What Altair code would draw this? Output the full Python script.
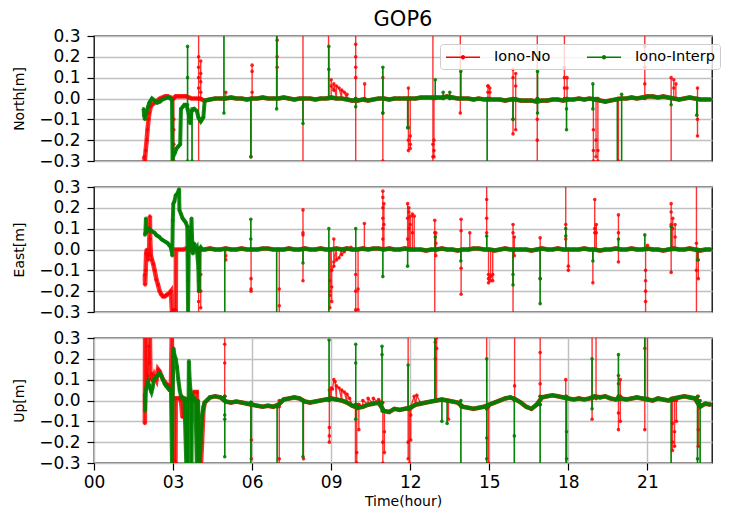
import altair as alt
import pandas as pd

RED = "#ff0000"
GREEN = "#008000"
SERIES = ["Iono-No", "Iono-Interp"]
X_TICKS = [0, 3, 6, 9, 12, 15, 18, 21]
Y_TICKS = [-0.3, -0.2, -0.1, 0.0, 0.1, 0.2, 0.3]
X_MAX = 23.45
BASE_T0 = 4.2
BASE_DT = 0.2

N_BASE = [-0.01, -0.005, 0.0, 0.0, 0.0, 0.005, 0.0, 0.0, -0.005, 0.0,
          0.0, 0.005, 0.0, 0.0, 0.0, 0.005, 0.0, -0.005, 0.0, 0.0,
          0.0, -0.005, 0.0, 0.0, 0.005, 0.0, 0.0, -0.005, -0.01, -0.01,
          -0.005, -0.01, -0.005, 0.0, 0.0, -0.005, 0.0, 0.0, 0.0, 0.0,
          0.0, 0.005, 0.005, 0.005, 0.005, 0.005, 0.01, 0.005, 0.0, 0.0,
          0.0, -0.005, 0.0, -0.005, -0.005, -0.005, -0.005, -0.01, -0.005, -0.005,
          -0.01, -0.01, -0.01, -0.015, -0.01, -0.01, -0.005, -0.005, -0.01, -0.005,
          -0.005, 0.0, -0.005, 0.0, -0.005, -0.01, -0.015, -0.01, -0.005, 0.0,
          0.0, 0.005, 0.0, 0.005, 0.01, 0.01, 0.005, 0.01, 0.005, 0.0,
          -0.005, 0.0, 0.005, 0.0, -0.005, -0.005, -0.005]
N_NO_EARLY = [(1.9, -0.28), (1.93, -0.3), (1.96, -0.25), (2.0, -0.2), (2.03, -0.15),
              (2.07, -0.1), (2.1, -0.07), (2.15, -0.04), (2.2, -0.03), (2.3, -0.02),
              (2.4, -0.01), (2.5, 0.0), (2.6, 0.005), (2.7, 0.01), (2.8, 0.01),
              (2.9, 0.005), (3.0, 0.0), (3.1, 0.01), (3.2, 0.01), (3.3, 0.01),
              (3.4, 0.01), (3.5, 0.01), (3.6, 0.005), (3.7, 0.0), (3.8, 0.0),
              (3.9, 0.0), (4.0, 0.0), (4.1, -0.005)]
N_INT_EARLY = [(1.88, -0.05), (1.9, -0.08), (1.93, -0.1), (1.96, -0.08), (2.0, -0.06),
               (2.05, -0.04), (2.1, -0.02), (2.15, -0.01), (2.2, 0.0), (2.3, -0.01),
               (2.4, -0.02), (2.5, -0.015), (2.6, -0.005), (2.7, 0.0), (2.8, 0.005),
               (2.9, 0.0), (2.96, -0.01), (2.98, -0.3), (3.0, -0.28), (3.07, -0.26),
               (3.13, -0.24), (3.2, -0.23), (3.27, -0.22), (3.3, -0.05), (3.37, -0.04),
               (3.43, -0.03), (3.5, -0.03), (3.55, -0.05), (3.6, -0.08), (3.65, -0.12),
               (3.7, -0.06), (3.8, -0.05), (3.9, -0.06), (3.96, -0.09), (4.0, -0.1),
               (4.05, -0.11), (4.1, -0.1), (4.15, -0.09)]
N_NO_SPIKES = [(3.03, [0.0, -0.15, -0.22, -0.3, -0.1, 0.0]),
               (3.97, [0.0, 0.35, 0.2, 0.15, 0.1, 0.05, -0.35, 0.0]),
               (4.05, [0.0, 0.18, 0.12, 0.08, 0.03, 0.0]),
               (5.0, [0.0, 0.03, 0.0]),
               (5.96, [0.0, -0.28, 0.0]),
               (6.0, [0.0, 0.16, 0.13, 0.03, 0.0]),
               (6.95, [0.0, 0.35, 0.28, 0.2, 0.15, 0.0]),
               (7.93, [0.0, 0.35, -0.35, 0.0]),
               (8.9, [0.0, 0.35, 0.0]),
               (9.0, [0.0, 0.09, 0.06]), (9.1, [0.04, 0.07]), (9.2, [0.06]),
               (9.3, [0.05]), (9.4, [0.04]), (9.5, [0.03]), (9.6, [0.02, 0.0]),
               (9.93, [0.0, 0.35, 0.26, 0.2, 0.15, 0.1, -0.35, 0.0]),
               (10.27, [0.0, 0.07, 0.0]),
               (10.96, [0.0, 0.1, -0.07, -0.3, 0.0]),
               (11.93, [0.0, 0.05, -0.14, -0.2, -0.25, 0.0]),
               (12.0, [0.0, -0.18, -0.22, -0.24, 0.0]),
               (12.86, [0.0, 0.35, -0.35, -0.28, -0.22, 0.0]),
               (12.9, [0.0, -0.2, -0.25, -0.28, 0.0]),
               (13.9, [0.0, 0.35, -0.07, 0.0]),
               (14.95, [0.0, 0.06, 0.03, 0.06, 0.0]),
               (15.02, [0.0, 0.05, 0.03, 0.0]),
               (15.9, [0.0, 0.14, 0.1, -0.1, -0.17, 0.0]),
               (16.0, [0.0, 0.12, 0.06, -0.15, 0.0]),
               (16.82, [0.0, 0.35, -0.35, -0.2, -0.1, 0.0]),
               (17.85, [0.0, 0.35, 0.15, 0.1, 0.05, 0.0]),
               (17.95, [0.0, 0.1, 0.05, 0.0]),
               (18.95, [0.0, -0.15, -0.25, -0.3, 0.0]),
               (19.05, [0.0, -0.2, -0.28, 0.0]),
               (19.12, [0.0, -0.25, -0.3, 0.0]),
               (19.9, [0.0, -0.3, 0.0]),
               (20.9, [0.0, 0.35, 0.25, 0.15, 0.07, 0.0]),
               (21.9, [0.0, 0.1, -0.35, 0.0]),
               (22.0, [0.0, 0.09, 0.05, 0.0]),
               (22.08, [0.0, 0.07, 0.0]),
               (22.9, [0.0, 0.05, -0.1, -0.18, 0.0])]
N_INT_SPIKES = [(3.55, [-0.03, 0.25, 0.1, -0.3, -0.05]),
                (3.72, [-0.05, -0.3, -0.06]),
                (4.93, [0.0, 0.35, -0.07, 0.0]),
                (5.95, [0.0, -0.28, 0.0]),
                (6.93, [0.0, 0.35, -0.05, 0.0]),
                (7.93, [0.0, -0.12, 0.0]),
                (8.91, [0.0, 0.25, 0.14, 0.0]),
                (9.93, [0.0, -0.04, 0.0]),
                (10.96, [0.0, 0.15, -0.07, 0.0]),
                (11.9, [0.0, -0.14, 0.0]),
                (12.95, [0.0, 0.09, 0.0]),
                (13.25, [0.0, 0.03, 0.0]),
                (13.5, [0.0, 0.03, 0.0]),
                (13.92, [0.0, 0.13, 0.0]),
                (14.92, [0.0, -0.35, 0.0]),
                (15.9, [0.0, -0.1, 0.0]),
                (16.83, [0.0, 0.13, -0.07, 0.0]),
                (17.93, [0.0, -0.15, -0.05, 0.0]),
                (18.93, [0.0, 0.07, -0.05, 0.0]),
                (19.86, [0.0, -0.35, 0.0]),
                (20.02, [0.0, -0.35, 0.02, 0.0]),
                (21.9, [0.0, -0.03, 0.0]),
                (22.87, [0.0, -0.08, 0.0])]

E_BASE = [0.0, 0.005, 0.0, 0.0, 0.005, 0.0, 0.0, 0.005, 0.0, 0.0,
          0.0, 0.005, 0.005, 0.0, 0.0, 0.0, 0.005, 0.0, 0.0, 0.005,
          0.0, 0.0, 0.005, 0.0, 0.0, 0.005, 0.0, 0.005, 0.0, 0.0,
          0.005, 0.0, 0.005, 0.005, 0.0, 0.005, 0.0, 0.0, 0.005, 0.0,
          0.0, 0.0, -0.005, 0.0, 0.0, 0.005, 0.0, 0.0, -0.005, 0.0,
          0.0, 0.005, 0.005, 0.0, 0.0, -0.005, 0.0, 0.005, 0.0, 0.0,
          0.0, 0.0, -0.005, 0.0, 0.005, 0.0, 0.0, 0.005, 0.0, 0.0,
          0.0, 0.0, 0.005, 0.0, 0.0, -0.005, 0.0, 0.0, 0.005, 0.0,
          0.0, 0.005, 0.0, 0.0, 0.005, 0.0, 0.0, -0.005, 0.0, 0.005,
          0.0, 0.0, 0.005, 0.0, -0.005, 0.0, 0.0]
E_NO_EARLY = [(1.93, -0.12), (1.94, -0.17), (1.96, -0.1), (1.98, -0.02), (2.0, 0.0),
              (2.03, -0.03), (2.06, -0.05), (2.09, -0.02), (2.12, 0.16), (2.13, 0.05),
              (2.16, -0.03), (2.2, -0.05), (2.25, -0.07), (2.3, -0.1), (2.37, -0.145),
              (2.43, -0.17), (2.49, -0.2), (2.55, -0.215), (2.62, -0.225), (2.68, -0.225),
              (2.74, -0.22), (2.8, -0.215), (2.86, -0.21), (2.92, -0.2), (2.96, -0.3),
              (3.0, -0.29), (3.05, -0.29), (3.1, -0.29), (3.11, 0.0), (3.2, 0.0),
              (3.3, 0.0), (3.4, 0.0), (3.5, 0.005), (3.6, 0.0), (3.7, 0.0),
              (3.8, 0.0), (3.9, 0.0), (4.0, 0.0), (4.1, 0.0)]
E_INT_EARLY = [(1.93, 0.07), (1.95, 0.08), (1.97, 0.15), (1.98, 0.08), (2.02, 0.09),
               (2.05, 0.1), (2.1, 0.1), (2.17, 0.09), (2.23, 0.085), (2.3, 0.08),
               (2.36, 0.07), (2.42, 0.065), (2.48, 0.06), (2.55, 0.05), (2.61, 0.045),
               (2.67, 0.04), (2.74, 0.035), (2.8, 0.03), (2.86, 0.02), (2.9, 0.015),
               (2.95, -0.01), (2.97, -0.03), (2.99, 0.14), (3.01, 0.22), (3.05, 0.23),
               (3.1, 0.26), (3.17, 0.27), (3.23, 0.29), (3.24, 0.19), (3.3, 0.17),
               (3.36, 0.15), (3.42, 0.14), (3.48, 0.13), (3.54, 0.11), (3.57, -0.35),
               (3.6, 0.05), (3.63, 0.09), (3.66, 0.02), (3.7, 0.15), (3.72, 0.06),
               (3.75, -0.02), (3.8, 0.03), (3.85, 0.0), (3.9, 0.01), (3.96, -0.09),
               (3.98, -0.2), (4.0, 0.0), (4.05, 0.01), (4.1, 0.0), (4.15, 0.0)]
E_NO_SPIKES = [(3.56, [0.0, -0.03, -0.15, 0.0]),
               (3.97, [0.0, -0.15, -0.2, -0.25, -0.35, 0.0]),
               (4.05, [0.0, -0.2, -0.28, -0.12, 0.0]),
               (5.0, [0.0, -0.03, -0.05, 0.0]),
               (5.96, [0.0, -0.14, -0.19, -0.2, 0.0]),
               (7.03, [0.0, -0.19, -0.27, -0.35, 0.0]),
               (7.93, [0.0, 0.19, 0.08, 0.07, -0.15, 0.0]),
               (8.95, [0.0, -0.15, -0.22, -0.28, -0.2]),
               (9.02, [-0.25, -0.18, -0.1]),
               (9.1, [-0.08, 0.05, -0.06]),
               (9.2, [-0.05]), (9.3, [-0.04]), (9.4, [-0.025]), (9.5, [-0.01]),
               (9.6, [0.005]), (9.75, [0.01, 0.0]),
               (9.93, [0.0, -0.12, -0.2, -0.29, -0.35, 0.0]),
               (10.02, [0.0, -0.19, -0.29, 0.0]),
               (10.26, [0.0, 0.125, 0.0]),
               (10.96, [0.0, 0.28, 0.25, 0.2, 0.15, 0.1, 0.05, 0.0]),
               (11.0, [0.0, 0.22, 0.12, 0.0]),
               (11.9, [0.0, 0.05, 0.15, 0.22, 0.0]),
               (11.95, [0.0, 0.2, 0.18, 0.1, 0.0]),
               (12.0, [0.0, 0.16, 0.12, 0.0]),
               (12.08, [0.0, 0.17, 0.08, 0.0]),
               (12.15, [0.0, 0.16, 0.0]),
               (12.93, [0.0, 0.14, 0.08, -0.35, 0.0]),
               (12.97, [0.0, 0.08, 0.03, -0.03, 0.0]),
               (13.93, [0.0, 0.145, 0.09, -0.215, -0.09, 0.0]),
               (14.26, [0.0, 0.08, 0.0]),
               (14.9, [0.0, 0.35, 0.24, 0.15, 0.08, 0.0]),
               (14.97, [0.0, -0.12, -0.16, -0.14, 0.0]),
               (15.05, [0.0, -0.13, -0.15, 0.0]),
               (15.13, [0.0, -0.15, -0.12, 0.0]),
               (15.9, [0.0, 0.12, 0.08, -0.35, 0.0]),
               (15.95, [0.0, 0.06, -0.03, 0.0]),
               (16.93, [0.0, 0.056, -0.14, 0.0]),
               (17.9, [0.0, 0.35, 0.12, 0.05, 0.0]),
               (18.0, [0.0, -0.1, -0.08, 0.0]),
               (18.93, [0.0, -0.16, 0.0]),
               (19.0, [0.0, 0.24, 0.1, 0.08, 0.0]),
               (19.06, [0.0, 0.12, 0.08, 0.0]),
               (19.9, [0.0, 0.166, 0.08, -0.06, 0.0]),
               (20.93, [0.0, -0.1, -0.15, -0.2, -0.25, -0.35, 0.0]),
               (21.0, [0.0, 0.02, 0.0]),
               (21.9, [0.0, 0.22, 0.18, 0.12, -0.11, 0.0]),
               (21.96, [0.0, 0.15, 0.1, 0.0]),
               (22.05, [0.0, 0.12, 0.06, 0.0]),
               (22.86, [0.0, 0.35, 0.03, -0.1, -0.35, 0.0]),
               (22.93, [0.0, -0.05, -0.14, 0.0])]
E_INT_SPIKES = [(4.96, [0.0, -0.35, 0.0]),
                (5.95, [0.0, 0.145, 0.05, 0.0]),
                (6.93, [0.0, -0.35, 0.0]),
                (7.93, [0.0, -0.065, 0.0]),
                (8.91, [0.0, 0.1, -0.35, 0.0]),
                (9.93, [0.0, 0.1, 0.0]),
                (10.96, [0.0, -0.13, 0.0]),
                (11.9, [0.0, -0.08, 0.0]),
                (12.95, [0.0, 0.06, 0.0]),
                (13.92, [0.0, -0.055, 0.0]),
                (14.9, [0.0, 0.065, 0.0]),
                (15.9, [0.0, -0.17, -0.12, 0.0]),
                (16.93, [0.0, -0.26, -0.14, 0.0]),
                (17.9, [0.0, 0.1, 0.065, 0.0]),
                (18.93, [0.0, -0.055, 0.0]),
                (19.9, [0.0, 0.05, 0.0]),
                (20.9, [0.0, 0.07, 0.0]),
                (21.9, [0.0, 0.11, 0.0]),
                (22.9, [0.0, -0.05, 0.0])]

U_BASE = [-0.01, 0.015, 0.02, 0.015, -0.005, -0.01, -0.005, -0.01, -0.015, -0.02,
          -0.025, -0.03, -0.025, -0.03, -0.02, 0.005, 0.01, 0.015, 0.01, -0.005,
          -0.01, -0.005, 0.0, 0.005, 0.01, 0.005, 0.0, -0.01, -0.025, -0.035,
          -0.03, -0.02, -0.015, -0.01, -0.05, -0.055, -0.04, -0.045, -0.04, -0.035,
          -0.02, -0.015, -0.01, -0.005, 0.0, 0.005, 0.0, -0.005, -0.01, -0.03,
          -0.035, -0.04, -0.035, -0.03, -0.02, -0.01, 0.0, 0.01, 0.015, 0.005,
          -0.01, -0.03, -0.04, -0.02, 0.015, 0.02, 0.025, 0.02, 0.015, 0.01,
          0.005, 0.01, 0.005, 0.01, 0.02, 0.015, 0.02, 0.01, 0.005, 0.01,
          0.005, 0.01, 0.015, 0.01, 0.005, 0.0, 0.01, 0.005, 0.0, 0.01,
          0.015, 0.02, 0.015, 0.01, -0.03, -0.015, -0.02]
U_NO_EARLY = [(1.93, -0.11), (1.94, 0.35), (1.96, 0.05), (1.98, 0.35), (2.0, 0.08),
              (2.04, 0.12), (2.08, 0.26), (2.1, 0.18), (2.12, 0.35), (2.14, 0.1),
              (2.2, 0.13), (2.25, 0.09), (2.3, 0.12), (2.37, 0.1), (2.43, 0.15),
              (2.49, 0.14), (2.55, 0.12), (2.62, 0.1), (2.68, 0.09), (2.74, 0.08),
              (2.8, 0.075), (2.86, 0.07), (2.92, 0.06), (2.95, 0.35), (2.97, 0.05),
              (3.03, -0.3), (3.06, -0.29), (3.09, -0.3), (3.1, 0.01), (3.2, 0.01),
              (3.3, 0.0), (3.36, -0.08), (3.4, 0.01), (3.5, 0.0), (3.6, 0.01),
              (3.7, 0.02), (3.8, 0.04), (3.9, 0.04), (3.96, -0.2), (3.98, -0.3),
              (4.02, -0.25), (4.06, -0.3), (4.1, -0.2), (4.15, -0.05)]
U_INT_EARLY = [(1.93, 0.03), (1.94, -0.05), (1.95, 0.0), (1.97, 0.05), (2.0, 0.07),
               (2.05, 0.09), (2.1, 0.07), (2.15, 0.05), (2.18, 0.04), (2.22, 0.06),
               (2.28, 0.1), (2.35, 0.11), (2.42, 0.12), (2.49, 0.13), (2.55, 0.12),
               (2.62, 0.1), (2.68, 0.08), (2.74, 0.07), (2.8, 0.06), (2.86, 0.05),
               (2.92, 0.05), (2.96, -0.35), (2.98, 0.0), (3.02, 0.25), (3.05, 0.22),
               (3.1, 0.2), (3.15, 0.16), (3.2, 0.1), (3.25, 0.05), (3.3, 0.02),
               (3.37, 0.01), (3.43, 0.01), (3.5, -0.35), (3.52, 0.0), (3.57, -0.35),
               (3.6, 0.19), (3.63, 0.1), (3.66, 0.05), (3.7, -0.35), (3.72, 0.03),
               (3.76, 0.0), (3.8, 0.01), (3.85, 0.0), (3.9, -0.35), (3.95, 0.0),
               (4.0, -0.35), (4.03, -0.25), (4.06, -0.15), (4.1, -0.08), (4.15, -0.03)]
U_NO_SPIKES = [(4.96, [0.02, 0.35, 0.27, 0.18, 0.02]),
               (5.97, [-0.01, -0.19, -0.28, -0.01]),
               (7.03, [-0.03, -0.35, -0.28, 0.0]),
               (7.95, [0.0, -0.28, 0.0]),
               (8.93, [0.0, -0.13, -0.2, -0.17, 0.05]),
               (9.0, [0.06]), (9.05, [0.055]), (9.1, [0.1]), (9.15, [0.09]),
               (9.2, [0.07]), (9.3, [0.06]), (9.4, [0.05]), (9.5, [0.04]),
               (9.6, [0.03]), (9.7, [0.01]),
               (9.92, [-0.02, -0.35, -0.02]),
               (9.97, [-0.02, -0.3, -0.25, -0.35, -0.02]),
               (10.05, [-0.02, -0.14, -0.02]),
               (10.2, [0.0]), (10.4, [0.01]), (10.6, [0.01]), (10.8, [0.005]),
               (10.96, [-0.01, -0.3, -0.2, -0.35, -0.05]),
               (11.02, [-0.05, -0.15, -0.25, -0.05]),
               (11.92, [-0.04, 0.35, -0.2, -0.28, -0.04]),
               (11.97, [-0.04, -0.3, -0.35, -0.04]),
               (12.02, [-0.04, -0.19, -0.07, -0.03]),
               (12.15, [0.02]), (12.25, [0.025]),
               (12.95, [0.0, 0.35, 0.28, 0.2, 0.0]),
               (13.0, [0.0, 0.3, 0.25, 0.0]),
               (13.45, [0.0, -0.09, 0.0]),
               (14.9, [-0.04, 0.35, -0.18, -0.28, -0.03]),
               (14.97, [-0.03, -0.3, -0.35, -0.03]),
               (15.96, [0.01, 0.35, 0.07, 0.01]),
               (16.93, [-0.02, 0.35, 0.23, 0.08, 0.02]),
               (17.9, [0.02, 0.1, -0.35, 0.01]),
               (18.9, [0.01, 0.35, -0.09, 0.01]),
               (19.05, [0.01, 0.35, 0.01]),
               (19.9, [0.02, 0.12, 0.08, -0.06, -0.14, 0.02]),
               (19.97, [0.02, 0.1, -0.1, 0.02]),
               (20.9, [0.01, 0.35, 0.25, -0.14, 0.01]),
               (21.0, [0.01, 0.35, 0.01]),
               (21.95, [0.0, -0.11, -0.2, -0.24, 0.01]),
               (22.03, [0.0, -0.15, -0.22, 0.01]),
               (22.1, [0.0, -0.1, 0.01]),
               (22.93, [0.02, -0.14, -0.22, 0.0])]
U_INT_SPIKES = [(4.96, [0.02, -0.07, -0.09, -0.27, 0.0]),
                (5.95, [-0.01, -0.35, -0.01]),
                (6.95, [-0.03, -0.35, -0.03]),
                (7.93, [0.0, -0.27, 0.0]),
                (8.92, [0.0, 0.29, 0.0]),
                (9.93, [-0.02, 0.27, 0.18, -0.09, -0.02]),
                (10.93, [-0.01, 0.26, 0.22, -0.05]),
                (11.92, [-0.04, 0.17, -0.04]),
                (12.93, [0.0, 0.35, 0.0]),
                (13.2, [0.0, -0.1, 0.0]),
                (13.4, [0.0, -0.11, 0.0]),
                (13.92, [0.0, -0.35, -0.03]),
                (14.9, [-0.04, 0.2, -0.35, -0.03]),
                (15.95, [0.01, -0.35, -0.17, 0.0]),
                (16.93, [-0.02, -0.35, 0.02]),
                (17.93, [0.02, -0.15, -0.28, -0.35, 0.01]),
                (18.9, [0.01, 0.2, -0.04, 0.01]),
                (19.9, [0.02, 0.22, 0.02]),
                (20.9, [0.01, 0.35, 0.01]),
                (21.9, [0.0, -0.35, 0.01]),
                (22.9, [0.02, -0.35, -0.28, 0.0]),
                (23.0, [0.0, -0.35, -0.02])]


def build(comp, series, early, base, spikes):
    rows = []
    for t, v in early:
        rows.append((t, 0, v, "base"))
    for i, v in enumerate(base):
        rows.append((round(BASE_T0 + BASE_DT * i, 4), 0, v, "base"))
    for t, vals in spikes:
        for j, v in enumerate(vals):
            rows.append((t, j + 1, v, "spike"))
    rows.sort(key=lambda r: (r[0], r[1]))
    return [dict(comp=comp, series=series, t=r[0], v=r[2], kind=r[3], idx=k)
            for k, r in enumerate(rows)]


records = []
records += build("North", "Iono-No", N_NO_EARLY, N_BASE, N_NO_SPIKES)
records += build("North", "Iono-Interp", N_INT_EARLY, N_BASE, N_INT_SPIKES)
records += build("East", "Iono-No", E_NO_EARLY, E_BASE, E_NO_SPIKES)
records += build("East", "Iono-Interp", E_INT_EARLY, E_BASE, E_INT_SPIKES)
records += build("Up", "Iono-No", U_NO_EARLY, U_BASE, U_NO_SPIKES)
records += build("Up", "Iono-Interp", U_INT_EARLY, U_BASE, U_INT_SPIKES)
df = pd.DataFrame(records)

FONT = "DejaVu Sans"
LEG_PATH = "M-2.43,0L2.43,0M0.21,0A0.21,0.21,0,1,1,-0.21,0A0.21,0.21,0,1,1,0.21,0"
PANEL_W = 618
PANEL_H = 125

cscale = alt.Scale(domain=SERIES, range=[RED, GREEN])
xscale = alt.Scale(domain=[0, X_MAX], nice=False, zero=False)
yscale = alt.Scale(domain=[-0.3, 0.3], nice=False, zero=False, clamp=True)


def panel(comp, ytitle, bottom, legend):
    d = df[df["comp"] == comp]
    if bottom:
        xaxis = alt.Axis(values=X_TICKS, title="Time(hour)", grid=True,
                         labelExpr="datum.value < 10 ? '0' + datum.value : '' + datum.value",
                         labelFlush=False)
    else:
        xaxis = None
    base = alt.Chart(d).encode(
        x=alt.X("t:Q", scale=xscale, axis=xaxis),
        y=alt.Y("v:Q", scale=yscale,
                axis=alt.Axis(values=Y_TICKS, format=".1f", title=ytitle, grid=True)),
        order=alt.Order("idx:Q"),
    )
    is_no = alt.datum.series == "Iono-No"
    is_int = alt.datum.series == "Iono-Interp"
    is_base = alt.datum.kind == "base"
    inside = (alt.datum.v <= 0.3) & (alt.datum.v >= -0.3)
    if legend:
        leg = alt.Legend(title=None, orient="none", legendX=PANEL_W - 272, legendY=8,
                         direction="horizontal", symbolType=LEG_PATH, symbolSize=196,
                         symbolStrokeWidth=1.5, symbolOffset=10, labelOffset=23,
                         columnPadding=32, padding=5, labelFont=FONT, labelFontSize=14.5,
                         labelColor="black", fillColor="rgba(255,255,255,0.8)",
                         strokeColor="#cccccc", cornerRadius=3, symbolOpacity=1)
    else:
        leg = None
    thin_all = base.mark_line(strokeWidth=1.4, opacity=0.8, clip=True).encode(
        color=alt.Color("series:N", scale=cscale, legend=leg, sort=SERIES))
    red_thick = base.transform_filter(is_no).transform_filter(is_base).mark_line(
        color=RED, strokeWidth=4.6, opacity=0.8, clip=True)
    red_pts = base.transform_filter(is_no).transform_filter(inside).mark_circle(
        color=RED, size=13, opacity=0.85, clip=True)
    green_thin = base.transform_filter(is_int).mark_line(
        color=GREEN, strokeWidth=1.4, opacity=0.85, clip=True)
    green_thick = base.transform_filter(is_int).transform_filter(is_base).mark_line(
        color=GREEN, strokeWidth=4.0, opacity=0.9, clip=True)
    green_pts = base.transform_filter(is_int).transform_filter(inside).mark_circle(
        color=GREEN, size=13, opacity=0.9, clip=True)
    ch = alt.layer(thin_all, red_thick, red_pts, green_thin, green_thick, green_pts
                   ).properties(width=PANEL_W, height=PANEL_H)
    return ch


top = panel("North", "North[m]", False, True).properties(
    title=alt.Title("GOP6", fontSize=21, fontWeight="normal", font=FONT,
                    color="black", offset=-3, anchor="middle", frame="group"))
mid = panel("East", "East[m]", False, False)
bot = panel("Up", "Up[m]", True, False)

chart = alt.vconcat(top, mid, bot, spacing=7).resolve_scale(
    color="independent").properties(
    padding={"left": 4, "top": 0, "right": 0, "bottom": 0}
).configure(font=FONT).configure_view(
    stroke="black", strokeWidth=1.3
).configure_axis(
    labelFont=FONT, labelFontSize=17, labelColor="black",
    titleFont=FONT, titleFontSize=14, titleFontWeight="normal", titleColor="black",
    tickColor="black", tickSize=7, tickWidth=1.2, labelPadding=7,
    domain=False, gridColor="#c0c0c0", gridWidth=1.5,
).configure_axisY(titlePadding=12).configure_axisX(titlePadding=4, labelPadding=4)

chart.save("out.html", embed_options={"renderer": "svg", "actions": False})
